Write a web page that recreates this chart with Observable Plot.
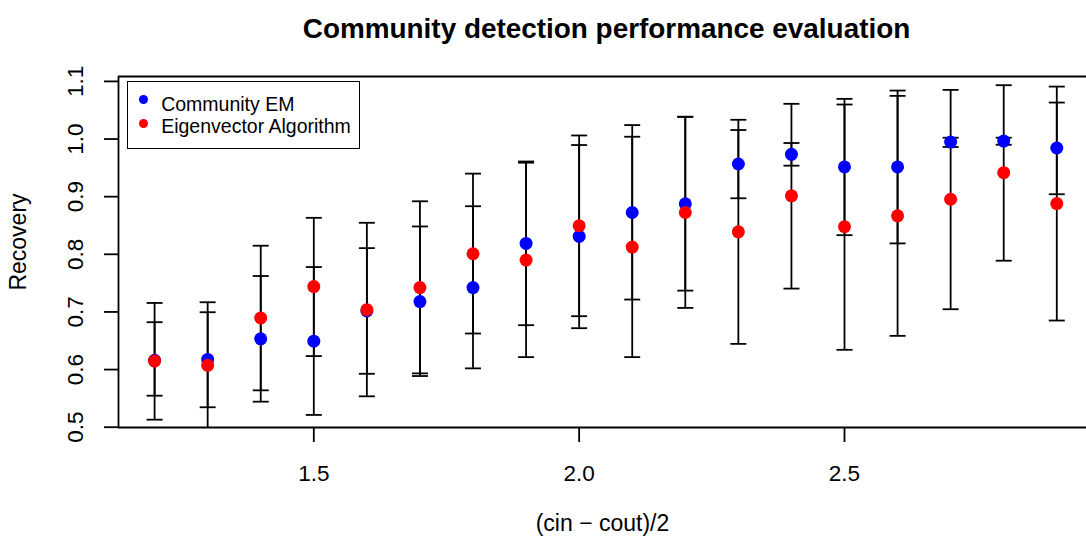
<!DOCTYPE html>
<html>
<head>
<meta charset="utf-8">
<script src="https://cdn.jsdelivr.net/npm/d3@7"></script>
<script src="https://cdn.jsdelivr.net/npm/@observablehq/plot@0.6"></script>
<style>
  html, body { margin: 0; padding: 0; background: #fff; }
  #wrap { position: relative; width: 1086px; height: 544px; overflow: hidden; font-family: "Liberation Sans", Arial, Helvetica, sans-serif; }
  #legend { position: absolute; left: 127px; top: 81px; width: 231px; height: 66px; border: 1.5px solid #000; background: #fff; }
  .lg-dot { position: absolute; width: 9px; height: 9px; border-radius: 50%; }
  .lg-txt { position: absolute; font-size: 19.5px; line-height: 1; white-space: nowrap; color: #000; }
</style>
</head>
<body>
<div id="wrap"></div>
<script>
// ---- data ----
const xs = [1.2, 1.3, 1.4, 1.5, 1.6, 1.7, 1.8, 1.9, 2.0, 2.1, 2.2, 2.3, 2.4, 2.5, 2.6, 2.7, 2.8, 2.9];

const emMean = [0.616, 0.6176, 0.6533, 0.6493, 0.7017, 0.718, 0.7422, 0.8189, 0.831, 0.8725, 0.8875, 0.9567, 0.9734, 0.9516, 0.9516, 0.9948, 0.9965, 0.9844];
const emLo   = [0.5547, 0.5346, 0.5443, 0.5213, 0.5927, 0.5888, 0.6021, 0.677, 0.6718, 0.7215, 0.737, 0.8972, 0.9538, 0.8332, 0.8189, 0.9862, 0.9901, 0.9042];
const emHi   = [0.6822, 0.6995, 0.7623, 0.7779, 0.8107, 0.8483, 0.8834, 0.961, 0.9896, 1.0242, 1.0386, 1.0156, 0.9931, 1.0697, 1.0841, 1.0023, 1.0023, 1.0633];

const eigMean = [0.6147, 0.6073, 0.6896, 0.744, 0.704, 0.7422, 0.801, 0.790, 0.8495, 0.8125, 0.8725, 0.839, 0.9014, 0.8478, 0.8668, 0.8955, 0.9417, 0.888];
const eigLo   = [0.5131, 0.4978, 0.564, 0.6234, 0.5536, 0.5934, 0.6626, 0.6216, 0.6926, 0.6216, 0.707, 0.6446, 0.7405, 0.6343, 0.6585, 0.7047, 0.7889, 0.6851];
const eigHi   = [0.7156, 0.7168, 0.8149, 0.8633, 0.8547, 0.892, 0.940, 0.959, 1.0062, 1.004, 1.0386, 1.0334, 1.0611, 1.0599, 1.0749, 1.0853, 1.0934, 1.091];

const seriesNames = ["Community EM", "Eigenvector Algorithm"];
const seriesColors = ["#0000ff", "#ff0000"];

const xTicks = [1.5, 2.0, 2.5];
const yTicks = [0.5, 0.6, 0.7, 0.8, 0.9, 1.0, 1.1];
const xDomain = [1.132, 2.956];
const yDomain = [0.4995, 1.1085];

const titleText = "Community detection performance evaluation";
const xLabel = "(cin \u2212 cout)/2";
const yLabel = "Recovery";

// ---- build table ----
const em = xs.map((x, i) => ({x, mean: emMean[i], lo: emLo[i], hi: emHi[i]}));
const eig = xs.map((x, i) => ({x, mean: eigMean[i], lo: eigLo[i], hi: eigHi[i]}));

const capSymbol = {
  draw(context, size) {
    const h = Math.sqrt(size / Math.PI);
    context.moveTo(-h, 0);
    context.lineTo(h, 0);
  }
};

const font = "'Liberation Sans', Arial, Helvetica, sans-serif";

function bars(data) {
  return [
    Plot.ruleX(data, {x: "x", y1: "lo", y2: "hi", stroke: "#000", strokeWidth: 1.8, clip: true}),
    Plot.dot(data, {x: "x", y: "lo", symbol: capSymbol, r: 8, stroke: "#000", fill: "none", strokeWidth: 1.8, clip: true}),
    Plot.dot(data, {x: "x", y: "hi", symbol: capSymbol, r: 8, stroke: "#000", fill: "none", strokeWidth: 1.8, clip: true})
  ];
}

const chart = Plot.plot({
  width: 1086,
  height: 544,
  marginLeft: 118,
  marginRight: 0,
  marginTop: 76,
  marginBottom: 117,
  style: {fontFamily: font, background: "#fff", overflow: "visible", color: "#000"},
  x: {domain: xDomain, label: null},
  y: {domain: yDomain, label: null},
  marks: [
    ...bars(em),
    ...bars(eig),
    Plot.dot(em, {x: "x", y: "mean", r: 6.5, fill: seriesColors[0], stroke: "none"}),
    Plot.dot(eig, {x: "x", y: "mean", r: 6.5, fill: seriesColors[1], stroke: "none"}),
    Plot.ruleY([yDomain[0], yDomain[1]], {stroke: "#000", strokeWidth: 1.8}),
    Plot.ruleX([xDomain[0]], {stroke: "#000", strokeWidth: 1.8}),
    Plot.axisX({ticks: xTicks, tickSize: 15, tickPadding: 23, tickFormat: d3.format(".1f"), fontSize: 22.5, strokeWidth: 1.8, label: null}),
    Plot.axisY({ticks: yTicks, tickSize: 14, tickPadding: 22, tickRotate: -90, tickFormat: d3.format(".1f"), fontSize: 22.5, strokeWidth: 1.8, label: null}),
    Plot.text([titleText], {frameAnchor: "top", dx: 4, dy: -58, fontSize: 27.9, fontWeight: "bold", fill: "#000"}),
    Plot.text([xLabel], {frameAnchor: "bottom", dy: 103, fontSize: 23, fill: "#000"}),
    Plot.text([yLabel], {frameAnchor: "left", textAnchor: "middle", dx: -100, dy: -10, rotate: -90, fontSize: 23, fill: "#000"})
  ]
});

const wrap = document.getElementById("wrap");
wrap.appendChild(chart);

// legend
const legend = document.createElement("div");
legend.id = "legend";
const dotTops = [17.5, 41.5];
const txtTops = [12.5, 35];
seriesNames.forEach((name, i) => {
  const dot = document.createElement("div");
  dot.className = "lg-dot";
  dot.style.background = seriesColors[i];
  dot.style.left = (144.3 - 128.5 - 4.5) + "px";
  dot.style.top = (dotTops[i] - 4.5) + "px";
  legend.appendChild(dot);
  const t = document.createElement("div");
  t.className = "lg-txt";
  t.textContent = name;
  t.style.left = (161.7 - 128.5) + "px";
  t.style.top = txtTops[i] + "px";
  legend.appendChild(t);
});
wrap.appendChild(legend);
</script>
</body>
</html>
